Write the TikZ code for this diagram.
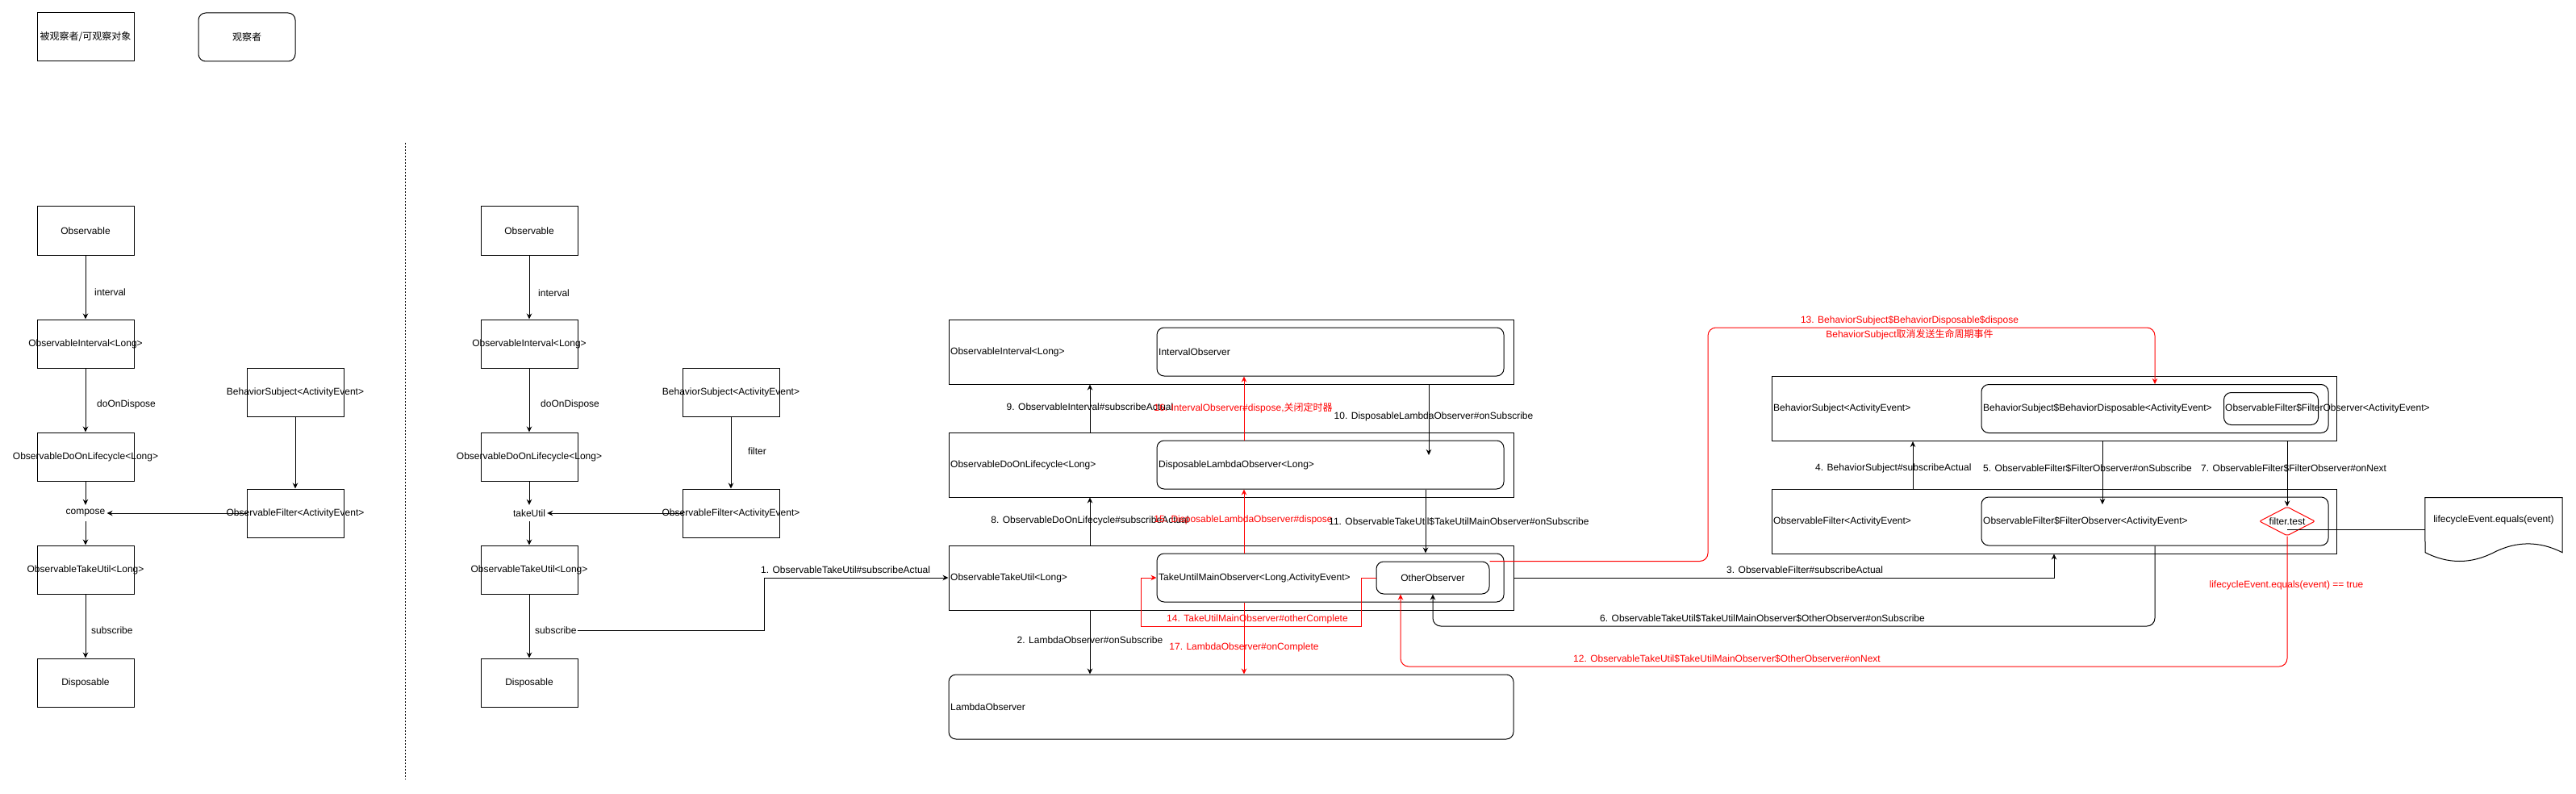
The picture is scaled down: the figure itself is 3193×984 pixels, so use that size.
\documentclass[tikz,border=0pt]{standalone}
\usepackage{fontspec}
\setmainfont{Liberation Sans}
\newfontfamily\cjk{Noto Sans CJK SC}
\usetikzlibrary{arrows.meta,shapes.geometric}
\newcommand\myfs{\fontsize{12pt}{14.4pt}\selectfont}
\newcommand\zw[1]{\makebox[0pt]{#1}}
\definecolor{rd}{RGB}{255,0,0}
\begin{document}
\begin{tikzpicture}[x=1pt,y=-1pt,
  every node/.style={font=\myfs},
  box/.style={draw, line width=1pt, inner sep=0pt, minimum width=120pt, minimum height=60pt},
  rbox/.style={box, rounded corners=9pt},
  txt/.style={inner sep=0pt},
  lt/.style={txt, anchor=west},
  rtxt/.style={txt, text=rd},
  ln/.style={line width=1pt},
  arr/.style={line width=1pt, -{Stealth[length=7pt,width=6.5pt]}},
  rarr/.style={arr, draw=rd}]
\useasboundingbox (0,0) rectangle (3193,984);

% legend
\node[box] (leg1) at (106,46) {\cjk 被观察者/可观察对象};
\node[rbox] (leg2) at (306,46) {\cjk 观察者};

% ---------- left diagram ----------
\node[box] (obs1) at (106,286) {Observable};
\node[box] (int1) at (106,426) {\zw{ObservableInterval<Long>}};
\node[box] (doo1) at (106,566) {\zw{ObservableDoOnLifecycle<Long>}};
\node[txt, inner xsep=2pt, minimum height=20pt] (cmp1) at (106,636) {compose};
\node[box] (tu1) at (106,706) {\zw{ObservableTakeUtil<Long>}};
\node[box] (dis1) at (106,846) {Disposable};
\node[box] (bs1) at (366,486) {\zw{BehaviorSubject<ActivityEvent>}};
\node[box] (fl1) at (366,636) {\zw{ObservableFilter<ActivityEvent>}};
\node[lt] (l1a) at (117,362) {interval};
\node[lt] (l1b) at (120,501) {doOnDispose};
\node[lt] (l1c) at (113,781) {subscribe};
\draw[arr] (obs1.south) -- (int1.north);
\draw[arr] (int1.south) -- (doo1.north);
\draw[arr] (doo1.south) -- (cmp1.north);
\draw[arr] (cmp1.south) -- (tu1.north);
\draw[arr] (tu1.south) -- (dis1.north);
\draw[arr] (bs1.south) -- (fl1.north);
\draw[arr] (fl1.west) -- (cmp1.east);

% separator
\coordinate (dt) at (502,177);
\coordinate (db) at (502,966);
\draw[line width=1pt, dash pattern=on 2pt off 2pt] (dt) -- (db);

% ---------- middle diagram ----------
\node[box] (obs2) at (656,286) {Observable};
\node[box] (int2) at (656,426) {\zw{ObservableInterval<Long>}};
\node[box] (doo2) at (656,566) {\zw{ObservableDoOnLifecycle<Long>}};
\node[txt, inner xsep=2pt, minimum height=20pt] (tk2) at (656,636) {takeUtil};
\node[box] (tu2) at (656,706) {\zw{ObservableTakeUtil<Long>}};
\node[box] (dis2) at (656,846) {Disposable};
\node[box] (bs2) at (906,486) {\zw{BehaviorSubject<ActivityEvent>}};
\node[box] (fl2) at (906,636) {\zw{ObservableFilter<ActivityEvent>}};
\node[lt] (l2a) at (667,363) {interval};
\node[lt] (l2b) at (670,501) {doOnDispose};
\node[lt] (l2c) at (927,559) {filter};
\node[lt, inner xsep=1pt] (sub2) at (662,781) {subscribe};
\draw[arr] (obs2.south) -- (int2.north);
\draw[arr] (int2.south) -- (doo2.north);
\draw[arr] (doo2.south) -- (tk2.north);
\draw[arr] (tk2.south) -- (tu2.north);
\draw[arr] (tu2.south) -- (dis2.north);
\draw[arr] (bs2.south) -- (fl2.north);
\draw[arr] (fl2.west) -- (tk2.east);

% ---------- right section: containers ----------
\node[box, minimum width=700pt, minimum height=80pt] (oi) at (1526,436) {};
\node[rbox, minimum width=430pt] (io) at (1649,436) {};
\node[box, minimum width=700pt, minimum height=80pt] (od) at (1526,576) {};
\node[rbox, minimum width=430pt] (dl) at (1649,576) {};
\node[box, minimum width=700pt, minimum height=80pt] (ot) at (1526,716) {};
\node[rbox, minimum width=430pt] (tm) at (1649,716) {};
\node[rbox, minimum width=140pt, minimum height=40pt] (other) at (1776,716) {OtherObserver};
\node[rbox, minimum width=700pt, minimum height=80pt] (lo) at (1526,876) {};

\node[lt] (toi) at (1178,436) {ObservableInterval<Long>};
\node[lt] (tio) at (1436,436) {IntervalObserver};
\node[lt] (tod) at (1178,576) {ObservableDoOnLifecycle<Long>};
\node[lt] (tdl) at (1436,576) {DisposableLambdaObserver<Long>};
\node[lt] (tot) at (1178,716) {ObservableTakeUtil<Long>};
\node[lt] (ttm) at (1436,716) {TakeUntilMainObserver<Long,ActivityEvent>};
\node[lt] (tlo) at (1178,876) {LambdaObserver};

\node[box, minimum width=700pt, minimum height=80pt] (bso) at (2546,506.5) {};
\node[rbox, minimum width=430pt] (bd) at (2671,506.5) {};
\node[rbox, minimum width=117pt, minimum height=40pt] (fi) at (2815,506.5) {};
\node[box, minimum width=700pt, minimum height=80pt] (fo) at (2546,646) {};
\node[rbox, minimum width=430pt] (fob) at (2671,646) {};
\node[draw=rd, line width=1pt, diamond, minimum width=69pt, minimum height=36pt, inner sep=0pt, rounded corners=2pt] (ft) at (2835,646) {\zw{filter.test}};

\node[lt] (tbso) at (2198,506) {BehaviorSubject<ActivityEvent>};
\node[lt] (tbd) at (2458,506) {BehaviorSubject\$BehaviorDisposable<ActivityEvent>};
\node[lt] (tfi) at (2758,506) {ObservableFilter\$FilterObserver<ActivityEvent>};
\node[lt] (tfo) at (2198,646) {ObservableFilter<ActivityEvent>};
\node[lt] (tfob) at (2458,646) {ObservableFilter\$FilterObserver<ActivityEvent>};

% document shape
\node[minimum width=170pt, minimum height=80pt, inner sep=0pt] (doc) at (3091,656.7) {};
\draw[ln] (doc.north west) -- (doc.north east) -- (3176,684.7)
  .. controls (3147.7,670.3) and (3119.3,670.3) .. (3091,684.7)
  .. controls (3062.7,699.1) and (3034.3,699.1) .. (3006,684.7) -- cycle;
\node[txt] (tdoc) at (3091,644) {lifecycleEvent.equals(event)};
\draw[ln] (ft.center |- doc.west) -- (doc.west);

% ---------- right section: connectors ----------
\coordinate (c1) at (947,781);
\draw[arr] (sub2.east) -- (c1) |- (ot.west);
\draw[arr] ([xshift=-175pt]od.north) -- ([xshift=-175pt]oi.south);
\draw[arr] ([xshift=-175pt]ot.north) -- ([xshift=-175pt]od.south);
\draw[arr] ([xshift=-175pt]ot.south) -- ([xshift=-175pt]lo.north);
\coordinate (e10) at (1771,564);
\draw[arr] (oi.south -| e10) -- (e10);
\coordinate (x11) at (1767,0);
\draw[arr] (dl.south -| x11) -- (tm.north -| x11);
\coordinate (xr) at (1542,0);
\draw[rarr] (dl.north -| xr) -- (io.south -| xr);
\draw[rarr] (tm.north -| xr) -- (dl.south -| xr);
\draw[rarr] (tm.south -| xr) -- (lo.north -| xr);
\coordinate (r14a) at (1687,776);
\coordinate (r14b) at (1414.5,776);
\draw[rarr] (other.west) -| (r14a) -- (r14b) |- (tm.west);
\coordinate (r13) at (2117,406);
\draw[rarr, rounded corners=10pt] (other.north east) -| (r13) -| (bd.north);
\draw[arr] (ot.east) -| (fo.south);
\draw[arr] ([xshift=-175pt]fo.north) -- ([xshift=-175pt]bso.south);
\coordinate (e5) at (2606,625);
\draw[arr] (bso.south -| e5) -- (e5);
\draw[arr] (bso.south -| ft.north) -- (ft.north);
\coordinate (c6) at (1776,776);
\draw[arr, rounded corners=10pt] (fob.south) |- (c6) -- (other.south);
\coordinate (c12) at (1736,826);
\draw[rarr, rounded corners=10pt] (ft.south) |- (c12) -- (c12 |- other.south);

% ---------- labels ----------
\node[lt] (lb1) at (943,706) {1. ObservableTakeUtil\#subscribeActual};
\node[txt] (lb9) at (1351,504) {9. ObservableInterval\#subscribeActual};
\node[rtxt] (lb16) at (1541,506) {16. IntervalObserver\#dispose,{\cjk 关闭定时器}};
\node[txt] (lb10) at (1777,516) {10. DisposableLambdaObserver\#onSubscribe};
\node[txt] (lb8) at (1351,645) {8. ObservableDoOnLifecycle\#subscribeActual};
\node[rtxt] (lb15) at (1541,644) {15. DisposableLambdaObserver\#dispose};
\node[lt] (lb11) at (1647,646) {11. ObservableTakeUtil\$TakeUtilMainObserver\#onSubscribe};
\node[rtxt, anchor=west] (lb14) at (1446,767) {14. TakeUtilMainObserver\#otherComplete};
\node[txt] (lb2) at (1351,793) {2. LambdaObserver\#onSubscribe};
\node[rtxt] (lb17) at (1542,802) {17. LambdaObserver\#onComplete};
\node[lt] (lb3) at (2140,706) {3. ObservableFilter\#subscribeActual};
\node[lt] (lb6) at (1983,766) {6. ObservableTakeUtil\$TakeUtilMainObserver\$OtherObserver\#onSubscribe};
\node[rtxt, anchor=west] (lb12) at (1950,816) {12. ObservableTakeUtil\$TakeUtilMainObserver\$OtherObserver\#onNext};
\node[rtxt] (lb13a) at (2367,397) {13. BehaviorSubject\$BehaviorDisposable\$dispose};
\node[rtxt] (lb13b) at (2367,415) {BehaviorSubject{\cjk 取消发送生命周期事件}};
\node[lt] (lb4) at (2250,580) {4. BehaviorSubject\#subscribeActual};
\node[lt] (lb5) at (2458,580) {5. ObservableFilter\$FilterObserver\#onSubscribe};
\node[lt] (lb7) at (2728,580) {7. ObservableFilter\$FilterObserver\#onNext};
\node[rtxt] (lbt) at (2834,725) {lifecycleEvent.equals(event) == true};
\end{tikzpicture}
\end{document}
